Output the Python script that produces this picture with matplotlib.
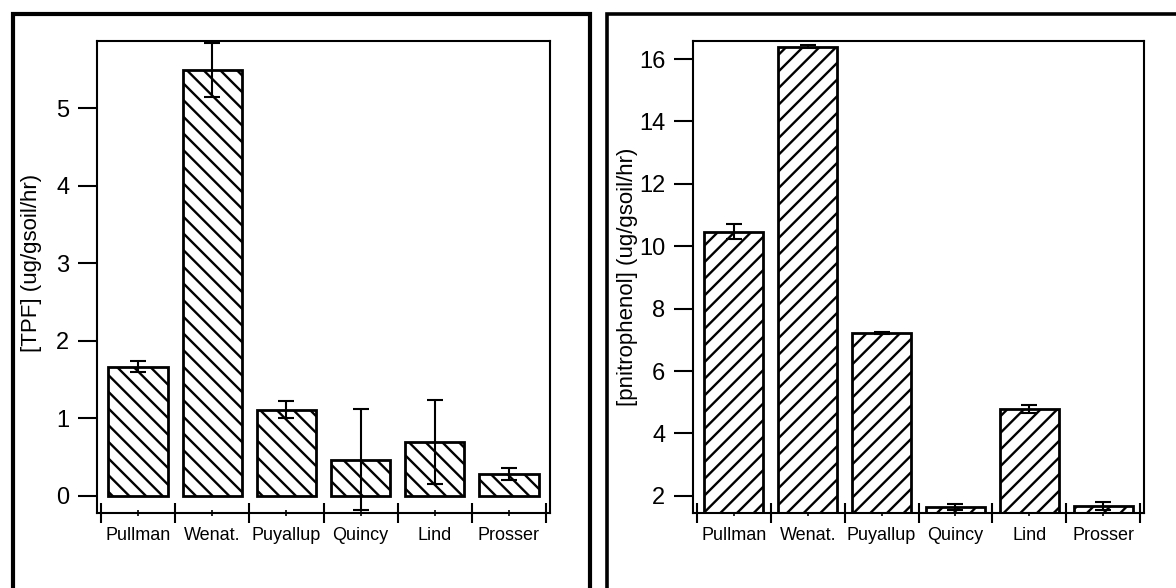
import numpy as np
import matplotlib
matplotlib.use('Agg')
import matplotlib.pyplot as plt
from matplotlib.patches import Rectangle

plt.rcParams['font.family'] = ['Liberation Sans', 'DejaVu Sans']
plt.rcParams['hatch.linewidth'] = 1.7

# data
sites = ['Pullman', 'Wenat.', 'Puyallup', 'Quincy', 'Lind', 'Prosser']
tpf = [1.67, 5.50, 1.11, 0.47, 0.70, 0.28]
tpf_err = [0.07, 0.35, 0.11, 0.65, 0.54, 0.08]
pnp = [10.47, 16.40, 7.22, 1.65, 4.78, 1.67]
pnp_err = [0.25, 0.05, 0.03, 0.10, 0.14, 0.13]

W, H = 1176, 588
fig = plt.figure(figsize=(W / 100, H / 100), dpi=100)

# outer frames round each panel
fig.patches.append(Rectangle((13 / W, -0.05), (590 - 13) / W, 1 - 13.5 / H + 0.05,
                             transform=fig.transFigure, fill=False, lw=3, ec='black',
                             clip_on=False))
fig.patches.append(Rectangle((607 / W, -0.05), 0.6, 1 - 13.5 / H + 0.05,
                             transform=fig.transFigure, fill=False, lw=2.6, ec='black',
                             clip_on=False))


def panel(rect, vals, errs, hatch, ylim, yticks, ylabel, label_y):
    ax = fig.add_axes(rect)
    x = np.arange(len(sites))
    ax.bar(x, vals, 0.8, color='white', edgecolor='black', linewidth=2,
           hatch=hatch, zorder=2)
    ax.errorbar(x, vals, yerr=errs, fmt='none', ecolor='black', elinewidth=1.5,
                capsize=5.5, capthick=1.5, zorder=3)
    ax.set_xlim(-0.553, 5.553)
    ax.set_ylim(*ylim)
    ax.set_yticks(yticks)
    # major ticks between sites, labels on minor ticks at bar centres
    ax.set_xticks(np.arange(len(sites) + 1) - 0.5)
    ax.set_xticklabels([])
    ax.set_xticks(x, minor=True)
    ax.set_xticklabels(sites, minor=True, fontsize=13)
    ax.tick_params(axis='x', which='major', direction='inout', length=14, width=1.5)
    ax.tick_params(axis='x', which='minor', direction='inout', length=4, width=1.2, pad=8)
    ax.tick_params(axis='y', direction='out', length=14, width=1.5, labelsize=17, pad=6)
    for s in ax.spines.values():
        s.set_linewidth(1.5)
    ax.set_ylabel(ylabel, fontsize=16)
    ax.yaxis.set_label_coords(-0.121, label_y)
    return ax


panel([97 / W, 1 - 513 / H, (550 - 97) / W, (513 - 41) / H], tpf, tpf_err, '\\\\',
      (-0.22, 5.87), range(0, 6), '[TPF] (ug/gsoil/hr)', 0.53)
panel([693 / W, 1 - 513 / H, (1144 - 693) / W, (513 - 41) / H], pnp, pnp_err, '//',
      (1.45, 16.58), range(2, 17, 2), '[pnitrophenol] (ug/gsoil/hr)', 0.5)

fig.savefig('out.png', dpi=100)
